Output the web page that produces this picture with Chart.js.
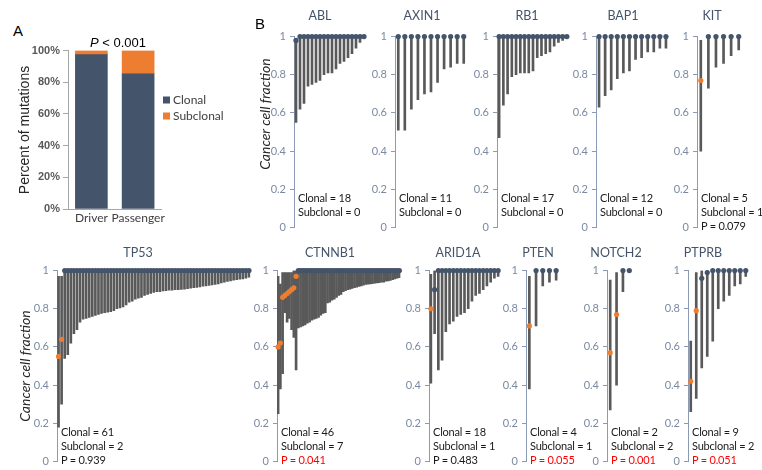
<!DOCTYPE html>
<html>
<head>
<meta charset="utf-8">
<script src="https://cdn.jsdelivr.net/npm/chart.js@4.4.1/dist/chart.umd.min.js"></script>
<style>
  body { margin: 0; width: 762px; height: 470px; position: relative; overflow: hidden; background: #fff; font-family: Lato, sans-serif; }
  canvas { position: absolute; }
  .t { position: absolute; white-space: nowrap; line-height: 1; transform: translate(-50%, -50%); }
  .l { position: absolute; white-space: nowrap; line-height: 1; transform: translateY(-50%); }
  .v { position: absolute; white-space: nowrap; line-height: 1; transform: translate(-50%, -50%) rotate(-90deg); }
</style>
</head>
<body>
<script>
// panel A
const groups = ['Driver', 'Passenger']
const clonalPct = [97.5, 85.4]
const subclonalPct = [2.5, 14.6]

// panel B, one entry per gene
const genes = ['ABL', 'AXIN1', 'RB1', 'BAP1', 'KIT', 'TP53', 'CTNNB1', 'ARID1A', 'PTEN', 'NOTCH2', 'PTPRB']
const clonalCounts = [18, 11, 17, 12, 5, 61, 46, 18, 4, 2, 9]
const subclonalCounts = [0, 0, 0, 0, 1, 2, 7, 1, 1, 2, 2]
const pValues = ['', '', '', '', '0.079', '0.939', '0.041', '0.483', '0.055', '0.001', '0.051']
const pSignificant = [false, false, false, false, false, false, true, false, true, true, true]
const orangeDots = [0, 0, 0, 0, 1, 2, 9, 1, 1, 2, 2]

const ablEst = [0.98, 1, 1, 1, 1, 1, 1, 1, 1, 1, 1, 1, 1, 1, 1, 1, 1, 1]
const ablLow = [0.55, 0.62, 0.65, 0.74, 0.75, 0.76, 0.77, 0.80, 0.81, 0.81, 0.83, 0.86, 0.87, 0.89, 0.91, 0.94, 0.97, 0.99]
const ablHigh = [0.98, 1, 1, 1, 1, 1, 1, 1, 1, 1, 1, 1, 1, 1, 1, 1, 1, 1]

const axin1Est = [1, 1, 1, 1, 1, 1, 1, 1, 1, 1, 1]
const axin1Low = [0.51, 0.51, 0.62, 0.67, 0.70, 0.71, 0.76, 0.83, 0.84, 0.86, 0.86]
const axin1High = [1, 1, 1, 1, 1, 1, 1, 1, 1, 1, 1]

const rb1Est = [1, 1, 1, 1, 1, 1, 1, 1, 1, 1, 1, 1, 1, 1, 1, 1, 1]
const rb1Low = [0.47, 0.64, 0.70, 0.79, 0.80, 0.81, 0.81, 0.81, 0.82, 0.89, 0.90, 0.91, 0.92, 0.95, 0.97, 0.98, 0.99]
const rb1High = [1, 1, 1, 1, 1, 1, 1, 1, 1, 1, 1, 1, 1, 1, 1, 1, 1]

const bap1Est = [1, 1, 1, 1, 1, 1, 1, 1, 1, 1, 1, 1]
const bap1Low = [0.63, 0.69, 0.72, 0.78, 0.81, 0.82, 0.88, 0.89, 0.92, 0.92, 0.94, 0.94]
const bap1High = [1, 1, 1, 1, 1, 1, 1, 1, 1, 1, 1, 1]

const kitEst = [0.77, 1, 1, 1, 1, 1]
const kitLow = [0.40, 0.73, 0.84, 0.86, 0.90, 0.93]
const kitHigh = [0.98, 1, 1, 1, 1, 1]

const tp53Est = [0.55, 0.64,
  1, 1, 1, 1, 1, 1, 1, 1, 1, 1, 1, 1, 1, 1, 1, 1, 1, 1, 1, 1,
  1, 1, 1, 1, 1, 1, 1, 1, 1, 1, 1, 1, 1, 1, 1, 1, 1, 1, 1, 1,
  1, 1, 1, 1, 1, 1, 1, 1, 1, 1, 1, 1, 1, 1, 1, 1, 1, 1, 1, 1, 1]
const tp53Low = [0.18, 0.30,
  0.54, 0.56, 0.62, 0.67, 0.69, 0.73, 0.745, 0.75, 0.755, 0.76,
  0.765, 0.77, 0.775, 0.78, 0.782, 0.785, 0.79, 0.80, 0.805, 0.81,
  0.82, 0.835, 0.84, 0.85, 0.855, 0.86, 0.87, 0.875, 0.88, 0.885,
  0.89, 0.89, 0.893, 0.895, 0.897, 0.898, 0.90, 0.90, 0.902, 0.903,
  0.905, 0.908, 0.91, 0.912, 0.915, 0.918, 0.92, 0.922, 0.925, 0.928,
  0.93, 0.935, 0.94, 0.943, 0.946, 0.95, 0.952, 0.955, 0.957, 0.96, 0.965]
const tp53High = [0.97, 0.97,
  1, 1, 1, 1, 1, 1, 1, 1, 1, 1, 1, 1, 1, 1, 1, 1, 1, 1, 1, 1,
  1, 1, 1, 1, 1, 1, 1, 1, 1, 1, 1, 1, 1, 1, 1, 1, 1, 1, 1, 1,
  1, 1, 1, 1, 1, 1, 1, 1, 1, 1, 1, 1, 1, 1, 1, 1, 1, 1, 1, 1, 1]

const ctnnb1Est = [0.60, 0.62, 0.86, 0.87, 0.88, 0.89, 0.90, 0.91, 0.97,
  1, 1, 1, 1, 1, 1, 1, 1, 1, 1, 1, 1, 1, 1, 1, 1, 1, 1, 1, 1, 1, 1, 1,
  1, 1, 1, 1, 1, 1, 1, 1, 1, 1, 1, 1, 1, 1, 1, 1, 1, 1, 1, 1, 1, 1, 1]
const ctnnb1Low = [0.25, 0.38, 0.46, 0.78, 0.73, 0.75, 0.69, 0.65, 0.48,
  0.70, 0.705, 0.71, 0.715, 0.725, 0.73, 0.74, 0.745, 0.75, 0.755,
  0.767, 0.775, 0.78, 0.83, 0.835, 0.845, 0.85, 0.86, 0.87, 0.875,
  0.89, 0.895, 0.90, 0.903, 0.907, 0.91, 0.913, 0.917, 0.92, 0.923,
  0.927, 0.929, 0.93, 0.932, 0.934, 0.935, 0.937, 0.939, 0.94, 0.944,
  0.946, 0.949, 0.952, 0.956, 0.96, 0.963]
const ctnnb1High = [0.97, 0.93, 0.99, 0.99, 0.99, 0.99, 0.99, 1, 1,
  1, 1, 1, 1, 1, 1, 1, 1, 1, 1, 1, 1, 1, 1, 1, 1, 1, 1, 1, 1, 1, 1, 1,
  1, 1, 1, 1, 1, 1, 1, 1, 1, 1, 1, 1, 1, 1, 1, 1, 1, 1, 1, 1, 1, 1, 1]

const arid1aEst = [0.80, 0.90, 1, 1, 1, 1, 1, 1, 1, 1, 1, 1, 1, 1, 1, 1, 1, 1, 1]
const arid1aLow = [0.41, 0.67, 0.48, 0.53, 0.68, 0.72, 0.735, 0.76, 0.77, 0.78, 0.80, 0.84, 0.87, 0.88, 0.90, 0.92, 0.94, 0.96, 0.97]
const arid1aHigh = [0.98, 1, 1, 1, 1, 1, 1, 1, 1, 1, 1, 1, 1, 1, 1, 1, 1, 1, 1]

const ptenEst = [0.71, 1, 1, 1, 1]
const ptenLow = [0.38, 0.71, 0.92, 0.94, 0.95]
const ptenHigh = [0.97, 1, 1, 1, 1]

const notch2Est = [0.57, 0.77, 1, 1]
const notch2Low = [0.27, 0.40, 0.89, 1]
const notch2High = [0.95, 0.99, 1, 1]

const ptprbEst = [0.42, 0.79, 0.96, 0.99, 1, 1, 1, 1, 1, 1, 1]
const ptprbLow = [0.26, 0.33, 0.49, 0.55, 0.63, 0.80, 0.84, 0.87, 0.92, 0.93, 0.97]
const ptprbHigh = [0.63, 0.99, 1, 1, 1, 1, 1, 1, 1, 1, 1]

const yTicks = [0, 0.2, 0.4, 0.6, 0.8, 1]
const yTickLabels = ['0', '0.2', '0.4', '0.6', '0.8', '1']

const geneEst = [ablEst, axin1Est, rb1Est, bap1Est, kitEst, tp53Est, ctnnb1Est, arid1aEst, ptenEst, notch2Est, ptprbEst]
const geneLow = [ablLow, axin1Low, rb1Low, bap1Low, kitLow, tp53Low, ctnnb1Low, arid1aLow, ptenLow, notch2Low, ptprbLow]
const geneHigh = [ablHigh, axin1High, rb1High, bap1High, kitHigh, tp53High, ctnnb1High, arid1aHigh, ptenHigh, notch2High, ptprbHigh]

const NAVY = '#44546A'
const ORANGE = '#ED7D31'
const STEM = '#595959'
const AXIS = '#8c9bb5'
const TICK = '#7b8aa3'

// where each small plot sits: y axis x, right edge of plot, row, title centre
const boxes = [
  { ax: 294, right: 366, row: 0, tx: 320 },
  { ax: 395, right: 467, row: 0, tx: 422 },
  { ax: 497, right: 569, row: 0, tx: 527 },
  { ax: 596, right: 669, row: 0, tx: 623 },
  { ax: 697, right: 742.5, row: 0, tx: 712 },
  { ax: 57, right: 250.5, row: 1, tx: 138 },
  { ax: 277, right: 400.5, row: 1, tx: 330 },
  { ax: 429, right: 500, row: 1, tx: 458 },
  { ax: 526, right: 559.5, row: 1, tx: 538 },
  { ax: 607, right: 632.5, row: 1, tx: 616 },
  { ax: 688, right: 748.5, row: 1, tx: 703 },
]

function addText(cls, html, x, y, style) {
  const d = document.createElement('div')
  d.className = cls
  d.innerHTML = html
  d.style.left = x + 'px'
  d.style.top = y + 'px'
  Object.assign(d.style, style || {})
  document.body.appendChild(d)
}

function addCanvas(left, top, w, h) {
  const cv = document.createElement('canvas')
  cv.width = w
  cv.height = h
  cv.style.left = left + 'px'
  cv.style.top = top + 'px'
  document.body.appendChild(cv)
  return cv
}

// ---- panel A ----
const cvA = addCanvas(0, 41, 168, 188)
new Chart(cvA, {
  type: 'bar',
  data: {
    labels: groups,
    datasets: [
      { label: 'Clonal', data: clonalPct, backgroundColor: NAVY, barThickness: 32 },
      { label: 'Subclonal', data: subclonalPct, backgroundColor: ORANGE, barThickness: 32 }
    ]
  },
  options: {
    responsive: false,
    animation: false,
    layout: { padding: { top: 8, right: 5, bottom: 0, left: 0 } },
    plugins: { legend: { display: false }, tooltip: { enabled: false } },
    scales: {
      x: {
        stacked: true,
        grid: { display: false, drawTicks: false, tickLength: 0 },
        border: { color: '#a6a6a6' },
        ticks: { color: '#404040', font: { family: 'Lato', size: 12 }, padding: 2, maxRotation: 0, minRotation: 0, autoSkip: false },
        afterFit: s => { s.height = 20 }
      },
      y: {
        stacked: true,
        min: 0,
        max: 100,
        ticks: { stepSize: 20, color: '#595959', font: { family: 'Liberation Sans', size: 11, weight: 'bold' }, padding: 3, callback: v => v + '%' },
        grid: { drawOnChartArea: false, tickLength: 5, color: '#a6a6a6' },
        border: { color: '#a6a6a6' },
        afterFit: s => { s.width = 68 }
      }
    }
  }
})

addText('t', 'A', 18, 30, { fontFamily: 'Liberation Sans', fontSize: '15px', color: '#000' })
addText('t', '<i>P</i> &lt; 0.001', 118, 42, { fontFamily: 'Liberation Sans', fontSize: '13px', color: '#000' })
addText('v', 'Percent of mutations', 24, 130, { fontFamily: 'Liberation Sans', fontSize: '14px', color: '#262626' })
addText('l', '', 163, 100, { width: '7px', height: '7px', background: NAVY })
addText('l', '', 163, 116, { width: '7px', height: '7px', background: ORANGE })
addText('l', 'Clonal', 173, 100, { fontSize: '12px', color: '#404040' })
addText('l', 'Subclonal', 173, 116, { fontSize: '12px', color: '#404040' })

// ---- panel B ----
addText('t', 'B', 260, 23, { fontFamily: 'Liberation Sans', fontSize: '15px', color: '#000' })
addText('v', '<i>Cancer cell fraction</i>', 265, 114, { fontSize: '14px', color: '#262626' })
addText('v', '<i>Cancer cell fraction</i>', 25, 366, { fontSize: '14px', color: '#262626' })

const statStyle = { fontSize: '11px', letterSpacing: '-0.2px', color: '#1a1a1a' }

genes.forEach((gene, g) => {
  const box = boxes[g]
  const est = geneEst[g], low = geneLow[g], high = geneHigh[g]
  const rowTop = box.row === 0 ? 34 : 268
  const plotH = 196, yAxisW = 30, padT = 8, padB = 8
  const cw = box.right - box.ax
  const width = Math.ceil(yAxisW + cw + 6)
  const cv = addCanvas(box.ax - yAxisW, rowTop - padT, width, plotH + padT + padB)

  new Chart(cv, {
    type: 'bar',
    data: {
      labels: est.map((v, i) => String(i + 1)),
      datasets: [
        {
          type: 'line',
          data: est,
          showLine: false,
          pointRadius: 2.6,
          pointHoverRadius: 2.6,
          pointBorderWidth: 0,
          pointBackgroundColor: est.map((v, i) => i < orangeDots[g] ? ORANGE : NAVY),
          clip: false,
          order: 0
        },
        {
          data: low.map((v, i) => [v, high[i]]),
          backgroundColor: STEM,
          barThickness: 2,
          order: 1
        }
      ]
    },
    options: {
      responsive: false,
      animation: false,
      layout: { padding: { top: padT, bottom: padB, left: 0, right: width - yAxisW - cw } },
      plugins: { legend: { display: false }, tooltip: { enabled: false } },
      scales: {
        x: { display: false },
        y: {
          min: 0,
          max: 1,
          afterBuildTicks: s => { s.ticks = yTicks.map(v => ({ value: v })) },
          ticks: { color: TICK, font: { family: 'Lato', size: 11 }, padding: 4, callback: (v, i) => yTickLabels[i] },
          grid: { drawOnChartArea: false, tickLength: 4, color: AXIS },
          border: { color: AXIS },
          afterFit: s => { s.width = yAxisW }
        }
      }
    }
  })

  const ty = box.row === 0 ? 16 : 253
  addText('t', gene, box.tx, ty, { fontSize: '12.5px', color: NAVY })
  const sy = box.row === 0 ? 197 : 431
  const sx = box.ax + 4
  addText('l', 'Clonal = ' + clonalCounts[g], sx, sy, statStyle)
  addText('l', 'Subclonal = ' + subclonalCounts[g], sx, sy + 14, statStyle)
  if (pValues[g]) {
    addText('l', 'P = ' + pValues[g], sx, sy + 28, Object.assign({}, statStyle, { color: pSignificant[g] ? '#ff0000' : '#1a1a1a' }))
  }
})
</script>
</body>
</html>
